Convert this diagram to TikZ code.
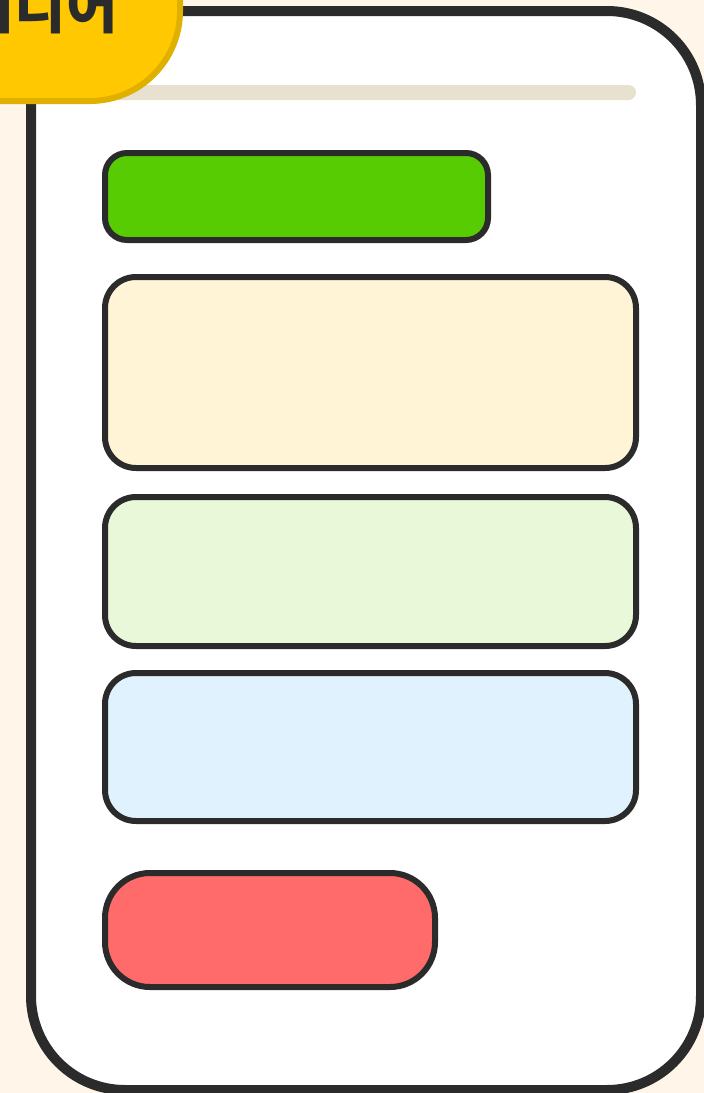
\documentclass[tikz,border=0pt]{standalone}
\usepackage{fontspec}
\newfontfamily\krfont{Noto Sans CJK KR}
\definecolor{bgcream}{HTML}{FFF6E9}
\definecolor{ink}{HTML}{2B2B2B}
\definecolor{tagyellow}{HTML}{FFC800}
\definecolor{tagborder}{HTML}{E0B000}
\definecolor{barbeige}{HTML}{E8E1CF}
\definecolor{boxgreen}{HTML}{58CC02}
\definecolor{boxcream}{HTML}{FFF5D6}
\definecolor{boxlgreen}{HTML}{E8F8D8}
\definecolor{boxblue}{HTML}{DFF2FD}
\definecolor{boxred}{HTML}{FF6B6B}
\tikzset{
  panel/.style={draw=ink, line width=6pt, inner sep=0pt, outer sep=0pt, anchor=north west},
}
\begin{document}
\begin{tikzpicture}[x=1pt,y=-1pt]
\useasboundingbox (0,0) rectangle (704,1093);
\clip (0,0) rectangle (704,1093);
\fill[bgcream] (0,0) rectangle (704,1093);
% card
\draw[fill=white, draw=ink, line width=10pt, rounded corners=94pt] (31,11) rectangle (701,1090);
% beige bar
\fill[barbeige, rounded corners=7.5pt] (103,85) rectangle (636,100);
% boxes
\node[panel, fill=boxgreen, rounded corners=22pt, minimum width=383pt, minimum height=87pt] (b1) at (105,153) {};
\node[panel, fill=boxcream, rounded corners=31pt, minimum width=531pt, minimum height=191pt] (b2) at (105,277) {};
\node[panel, fill=boxlgreen, rounded corners=31pt, minimum width=531pt, minimum height=149pt] (b3) at (105,497) {};
\node[panel, fill=boxblue, rounded corners=31pt, minimum width=531pt, minimum height=148pt] (b4) at (105,673) {};
\node[panel, fill=boxred, rounded corners=45pt, minimum width=330pt, minimum height=114pt] (b5) at (105,873) {};
% tag
\draw[fill=tagyellow, draw=tagborder, line width=6pt, rounded corners=90pt] (-150,-150) rectangle (180,101);
\node[anchor=base east, inner sep=0pt, text=ink, font=\krfont\bfseries\fontsize{56}{60}\selectfont] (tag) at (118,28) {아이디어};
\end{tikzpicture}
\end{document}
